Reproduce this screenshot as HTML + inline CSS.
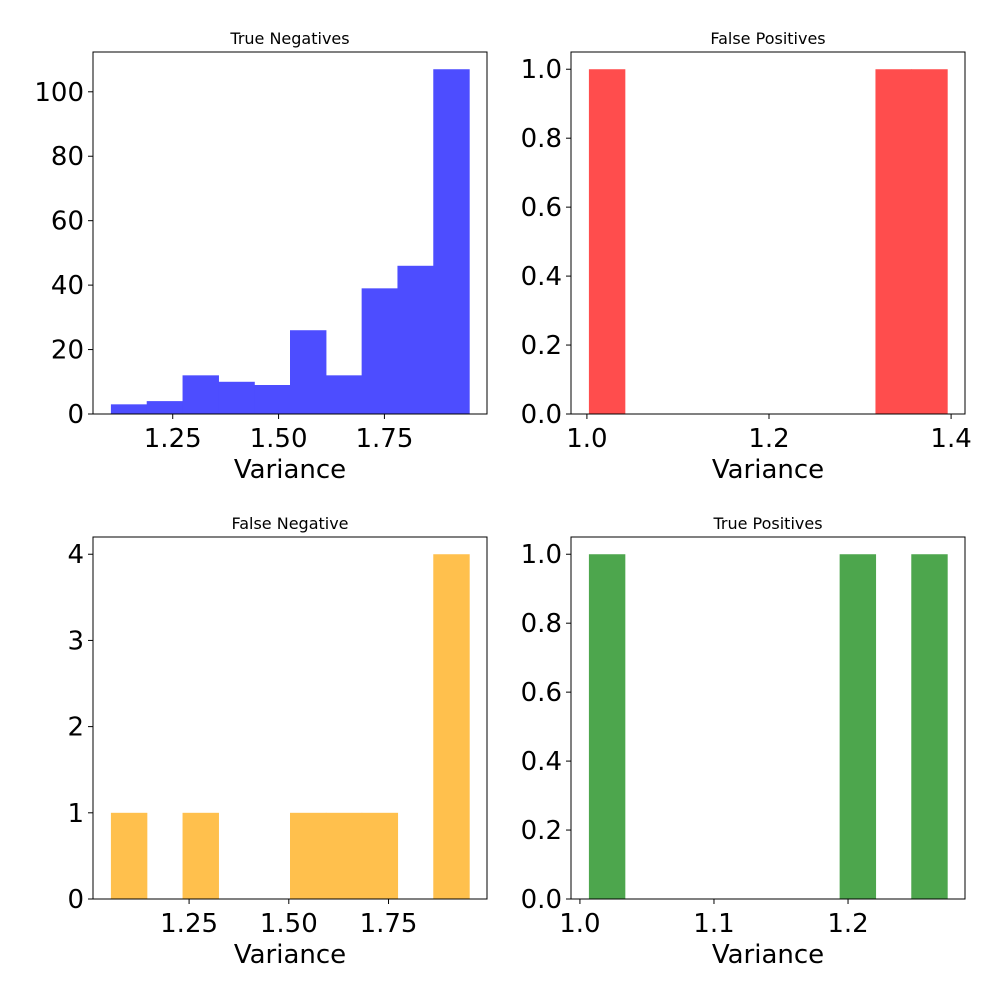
<!DOCTYPE html>
<html><head><meta charset="utf-8"><style>
body{margin:0;background:#fff}
svg{display:block;font-family:"DejaVu Sans","Liberation Sans",sans-serif}
</style></head><body>
<svg id="chart" width="1000" height="1000" viewBox="0 0 1000 1000"></svg>
<script>
const tnCounts=[3,4,12,10,9,26,12,39,46,107];
const tnRange=[1.104,1.95];
const tnTicks=[0,20,40,60,80,100];
const tnXTicks=[1.25,1.5,1.75];
const fpCounts=[1,0,0,0,0,0,0,0,1,1];
const fpRange=[1.0022,1.3956];
const fpTicks=[0,0.2,0.4,0.6,0.8,1.0];
const fpXTicks=[1.0,1.2,1.4];
const fnCounts=[1,0,1,0,0,1,1,1,0,4];
const fnRange=[1.054,1.952];
const fnTicks=[0,1,2,3,4];
const fnXTicks=[1.25,1.5,1.75];
const tpCounts=[1,0,0,0,0,0,0,1,0,1];
const tpRange=[1.0067,1.2739];
const tpTicks=[0,0.2,0.4,0.6,0.8,1.0];
const tpXTicks=[1.0,1.1,1.2];

const NS="http://www.w3.org/2000/svg";
const svg=document.getElementById('chart');
function mk(tag,attrs,parent){const e=document.createElementNS(NS,tag);for(const k in attrs)e.setAttribute(k,attrs[k]);(parent||svg).appendChild(e);return e;}

function panel(key,title,counts,range,yTicks,xTicks,color,yDec,xDec,L,T){
  const W=394,H=362,R=L+W,B=T+H;
  const g=mk('g',{});
  
  
  const bw=(range[1]-range[0])/counts.length;
  const pad=(range[1]-range[0])*0.05;
  const x0=range[0]-pad,x1=range[1]+pad;
  const ymax=Math.max(...counts)*1.05;
  const sx=v=>L+(v-x0)/(x1-x0)*W;
  const sy=v=>B-v/ymax*H;
  counts.forEach((c,i)=>{
    if(c<=0)return;
    const a=sx(range[0]+i*bw),b=sx(range[0]+(i+1)*bw);
    const r=mk('rect',{x:a,y:sy(c),width:b-a+0.6,height:B-sy(c),fill:color},g);
    
    
  });
  const f=mk('rect',{x:L,y:T,width:W,height:H,fill:'none',stroke:'#000','stroke-width':1},g);
  
  
  yTicks.forEach(t=>{
    const y=sy(t);
    mk('line',{x1:L-5,x2:L,y1:y,y2:y,stroke:'#000'},g);
    const tx=mk('text',{x:L-9,y:y+9,'font-size':26,'text-anchor':'end'},g);
    tx.textContent=t.toFixed(yDec);
    
    
  });
  xTicks.forEach(t=>{
    const x=sx(t);
    mk('line',{x1:x,x2:x,y1:B,y2:B+5,stroke:'#000'},g);
    const tx=mk('text',{x:x,y:B+33,'font-size':26,'text-anchor':'middle'},g);
    tx.textContent=t.toFixed(xDec);
    
    
  });
  const xl=mk('text',{x:L+W/2,y:B+64,'font-size':26,'text-anchor':'middle'},g);
  xl.textContent='Variance';
  
  
  const tt=mk('text',{x:L+W/2,y:T-8,'font-size':16,'text-anchor':'middle'},g);
  tt.textContent=title;
  
  
}
panel('true-negatives','True Negatives',tnCounts,tnRange,tnTicks,tnXTicks,'#4d4dff',0,2,93,52);
panel('false-positives','False Positives',fpCounts,fpRange,fpTicks,fpXTicks,'#ff4d4d',1,1,571,52);
panel('false-negative','False Negative',fnCounts,fnRange,fnTicks,fnXTicks,'#ffc04d',0,2,93,537);
panel('true-positives','True Positives',tpCounts,tpRange,tpTicks,tpXTicks,'#4da64d',1,1,571,537);
</script>
</body></html>
